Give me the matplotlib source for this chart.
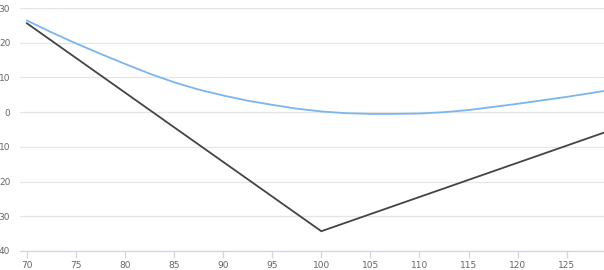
import matplotlib.pyplot as plt
from matplotlib.ticker import FuncFormatter

# blue curve
blue_x = [70, 72.5, 75, 77.5, 80, 82.5, 85, 87.5, 90, 92.5, 95, 97.5, 100,
          102.5, 105, 107.5, 110, 112.5, 115, 117.5, 120, 122.5, 125, 127.5, 129]
blue_y = [26.4, 23.0, 19.8, 16.8, 13.9, 11.1, 8.6, 6.5, 4.8, 3.3, 2.1, 1.0, 0.2,
          -0.3, -0.5, -0.5, -0.4, 0.0, 0.6, 1.5, 2.4, 3.4, 4.4, 5.5, 6.2]

# dark line
dark_x = [70, 100, 129]
dark_y = [25.6, -34.3, -5.7]

x_ticks = [70, 75, 80, 85, 90, 95, 100, 105, 110, 115, 120, 125]
y_ticks = [30, 20, 10, 0, -10, -20, -30, -40]

fig = plt.figure(figsize=(6.04, 2.70), dpi=100)
ax = fig.add_axes([20 / 604, 1 - 251 / 270, 584 / 604, 243 / 270])

ax.plot(blue_x, blue_y, color="#7cb5ec", lw=1.3, solid_capstyle="round")
ax.plot(dark_x, dark_y, color="#434348", lw=1.3, solid_joinstyle="miter")

ax.set_xlim(69.3, 128.8)
ax.set_ylim(-40, 30)
ax.set_xticks(x_ticks)
ax.set_yticks(y_ticks)
ax.yaxis.set_major_formatter(FuncFormatter(lambda v, p: f"{abs(int(v))}"))

ax.grid(axis="y", color="#e6e6e6", lw=0.9)
ax.set_axisbelow(True)
for s in ["top", "right", "left"]:
    ax.spines[s].set_visible(False)
ax.spines["bottom"].set_color("#ccd6eb")
ax.spines["bottom"].set_linewidth(0.9)

ax.tick_params(axis="x", colors="#ccd6eb", length=5, width=0.9, labelcolor="#666666",
               labelsize=6.5, pad=2)
ax.tick_params(axis="y", length=0, labelcolor="#666666", labelsize=6.5, pad=7)

fig.savefig("out.png", dpi=100)
